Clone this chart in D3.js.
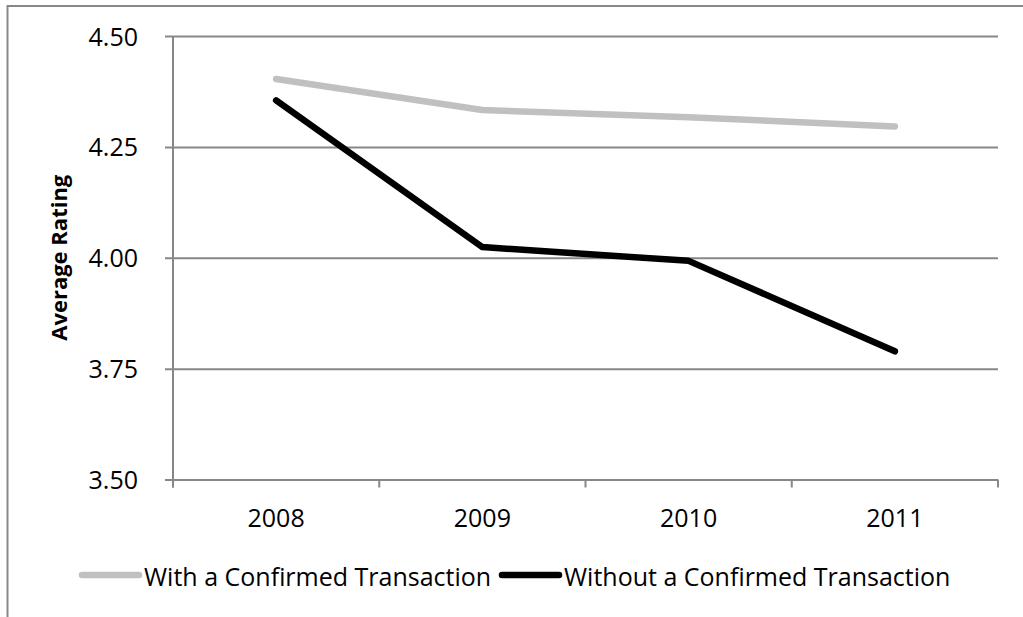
<!DOCTYPE html>
<html>
<head>
<meta charset="utf-8">
<script src="https://cdn.jsdelivr.net/npm/d3@7"></script>
<style>
  html, body { margin: 0; padding: 0; background: #fff; }
  svg { display: block; }
  text { font-family: "Open Sans", "Liberation Sans", Arial, sans-serif; fill: #000; }
</style>
</head>
<body>
<svg id="chart" width="1023" height="617"></svg>
<script>
const years = ["2008", "2009", "2010", "2011"];
const withConfirmed = [4.403, 4.333, 4.317, 4.296];
const withoutConfirmed = [4.355, 4.024, 3.993, 3.789];
const yTicks = [3.50, 3.75, 4.00, 4.25, 4.50];
const seriesNames = ["With a Confirmed Transaction", "Without a Confirmed Transaction"];
const seriesColors = ["#c0c0c0", "#000000"];

const svg = d3.select("#chart");
const W = 1023, H = 617;
const plot = { left: 173, right: 998, top: 36, bottom: 479.5 };
const FONT = "'Open Sans', 'Liberation Sans', Arial, sans-serif";
const FS = "25px";

// outer frame (cropped at right/bottom)
svg.append("rect")
  .attr("x", 7.5).attr("y", 6).attr("width", W + 10).attr("height", H + 10)
  .attr("fill", "none").attr("stroke", "#888").attr("stroke-width", 2);

const x = d3.scaleBand().domain(years).range([plot.left, plot.right]).padding(0);
const y = d3.scaleLinear().domain([3.5, 4.5]).range([plot.bottom, plot.top]);

// gridlines + y ticks
const yAxis = d3.axisLeft(y).tickValues(yTicks)
  .tickSize(8).tickSizeOuter(0).tickFormat(d3.format(".2f"));
const gy = svg.append("g").attr("transform", `translate(${plot.left},0)`).call(yAxis);
gy.select(".domain").remove();
gy.selectAll(".tick line").attr("stroke", "#878787").attr("stroke-width", 2)
  .attr("x1", plot.right - plot.left).attr("x2", -8);
gy.selectAll(".tick text")
  .attr("x", -35).attr("dy", "0.36em")
  .style("font-size", FS).style("font-family", FONT);

// y axis line
svg.append("line")
  .attr("x1", plot.left).attr("x2", plot.left)
  .attr("y1", plot.top).attr("y2", plot.bottom + 8)
  .attr("stroke", "#878787").attr("stroke-width", 2);

// x axis: band boundary ticks
const bounds = years.map(d => x(d)).concat([x(years[years.length - 1]) + x.bandwidth()]);
svg.append("g").selectAll("line").data(bounds).join("line")
  .attr("x1", d => d).attr("x2", d => d)
  .attr("y1", plot.bottom).attr("y2", plot.bottom + 8)
  .attr("stroke", "#878787").attr("stroke-width", 2);

svg.append("g").selectAll("text").data(years).join("text")
  .attr("x", d => x(d) + x.bandwidth() / 2)
  .attr("y", 527)
  .attr("text-anchor", "middle")
  .style("font-size", FS)
  .text(d => d);

// y title
svg.append("text")
  .attr("transform", `translate(67,${(plot.top + plot.bottom) / 2}) rotate(-90)`)
  .attr("text-anchor", "middle")
  .style("font-size", "22px").style("font-weight", "bold")
  .text("Average Rating");

// lines
const line = d3.line()
  .x((d, i) => x(years[i]) + x.bandwidth() / 2)
  .y(d => y(d));
[withConfirmed, withoutConfirmed].forEach((s, i) => {
  svg.append("path").datum(s)
    .attr("d", line)
    .attr("fill", "none")
    .attr("stroke", seriesColors[i])
    .attr("stroke-width", 6.5)
    .attr("stroke-linecap", "round")
    .attr("stroke-linejoin", "round");
});

// legend
const legendX = [82, 502];
seriesNames.forEach((name, i) => {
  const g = svg.append("g");
  g.append("line")
    .attr("x1", legendX[i]).attr("x2", legendX[i] + 57)
    .attr("y1", 575).attr("y2", 575)
    .attr("stroke", seriesColors[i]).attr("stroke-width", 6.5)
    .attr("stroke-linecap", "round");
  g.append("text")
    .attr("x", legendX[i] + 62).attr("y", 586)
    .style("font-size", FS)
    .text(name);
});
</script>
</body>
</html>
